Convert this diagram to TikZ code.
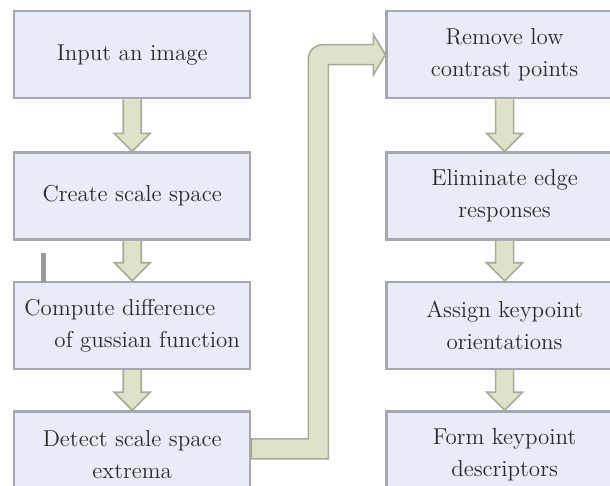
\documentclass[tikz,border=0pt]{standalone}
\usepackage{xcolor}
\usepackage{tikz}
\usetikzlibrary{positioning,calc}
\definecolor{boxfill}{HTML}{E8ECF7}
\definecolor{boxline}{HTML}{A6A7AF}
\definecolor{arrfill}{HTML}{DFE1C9}
\definecolor{arrline}{HTML}{A8AA99}
\definecolor{ink}{HTML}{2B2B2B}
\definecolor{strayline}{HTML}{9A9A9A}

\begin{document}
\begin{tikzpicture}[
    stepbox/.style={rectangle, draw=boxline, fill=boxfill, text=ink,
                    minimum width=118pt, minimum height=43.5pt, inner sep=0pt,
                    align=center, font=\fontsize{11.5}{16}\selectfont, line width=1.2pt},
    blockarrow/.style={draw=arrline, fill=arrfill, line width=0.8pt, line join=miter},
]
\useasboundingbox (0,0) rectangle (305pt,-243pt);
\clip (0,0) rectangle (305pt,-243pt);

% left column
\node[stepbox,anchor=north west] (inp) at (6.5pt,-5pt) {Input an image};
\node[stepbox,below=26pt of inp] (cre) {Create scale space};
\node[stepbox,below=20pt of cre,align=left] (cmp) {Compute difference\\\hspace*{15pt}of gussian function};
\node[stepbox,below=20pt of cmp] (det) {Detect scale space\\extrema};

% right column
\node[stepbox,right=67pt of inp] (rem) {Remove low\\contrast points};
\node[stepbox,below=26pt of rem] (eli) {Eliminate edge\\responses};
\node[stepbox,below=20pt of eli] (ori) {Assign keypoint\\orientations};
\node[stepbox,below=20pt of ori] (des) {Form keypoint\\descriptors};

% small stray mark
\fill[strayline] (20.5pt,-126.5pt) rectangle (23pt,-141.5pt);

% straight block arrows
\foreach \a/\b in {inp/cre,cre/cmp,cmp/det,rem/eli,eli/ori,ori/des}
  \draw[blockarrow] ($(\a.south)+(-4.5pt,0)$) -- ($(\b.north)+(-4.5pt,9pt)$)
    -- ($(\b.north)+(-9pt,9pt)$) -- (\b.north) -- ($(\b.north)+(9pt,9pt)$)
    -- ($(\b.north)+(4.5pt,9pt)$) -- ($(\a.south)+(4.5pt,0)$);

% elbow arrow from det to rem
\coordinate (bend) at ($(det.east)!0.5!(det.east -| rem.west)$);
\draw[blockarrow] ($(det.east)+(0,8pt)$) -- ($(bend)+(-5pt,8pt)$)
  -- ($(bend |- rem.west)+(-5pt,-2pt)$) arc[start angle=180,end angle=90,radius=7pt]
  -- ($(rem.west)+(-6pt,5pt)$) -- ($(rem.west)+(-6pt,10pt)$) -- (rem.west)
  -- ($(rem.west)+(-6pt,-10pt)$) -- ($(rem.west)+(-6pt,-5pt)$)
  -- ($(bend |- rem.west)+(5pt,-5pt)$) -- ($(bend)+(5pt,-2pt)$)
  -- ($(det.east)+(0,-2pt)$) -- cycle;
\end{tikzpicture}
\end{document}
